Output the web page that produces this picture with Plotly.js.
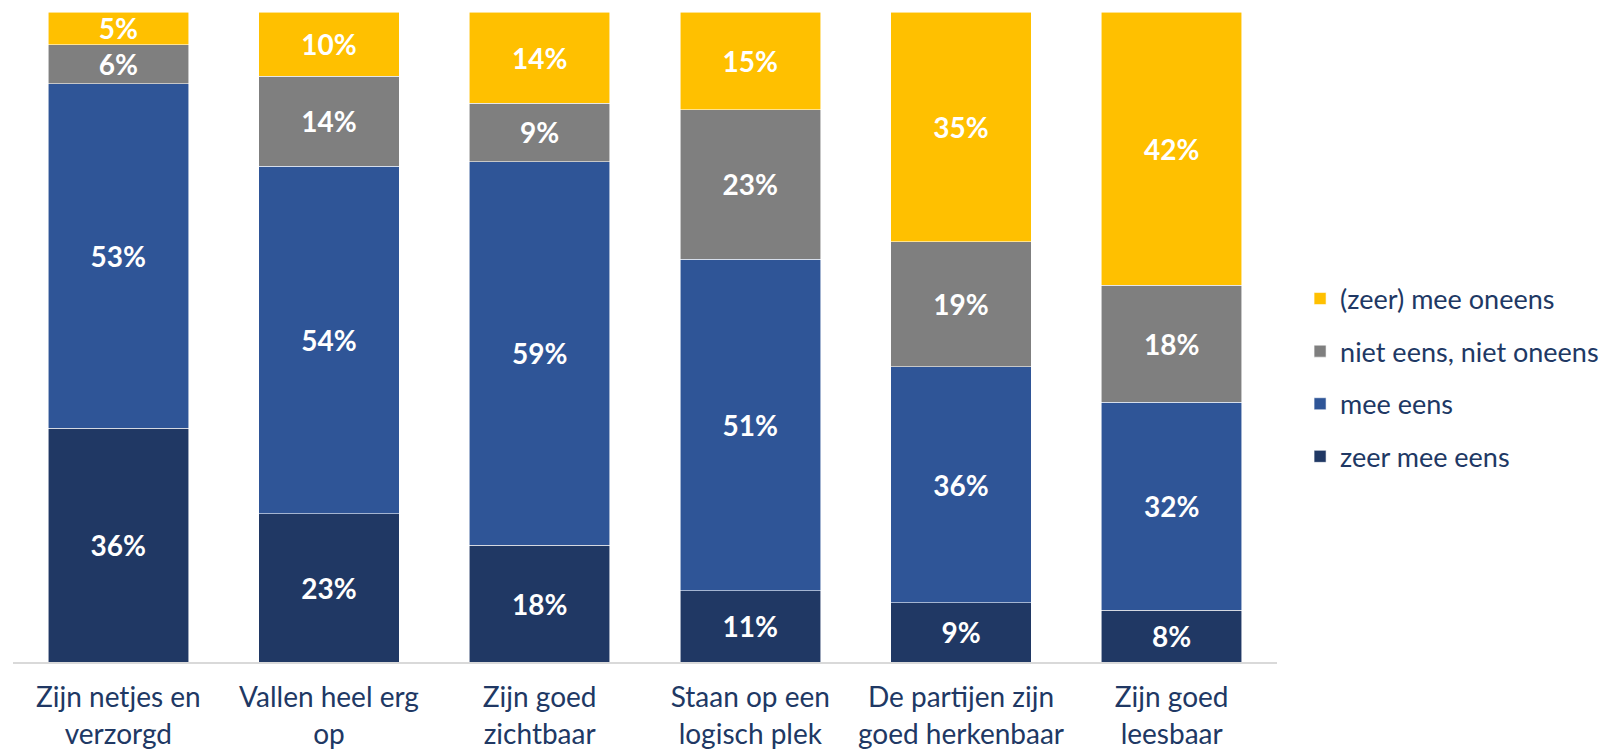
<!DOCTYPE html>
<html>
<head>
<meta charset="utf-8">
<script src="https://cdn.plot.ly/plotly-3.0.1.min.js"></script>
<style>html,body{margin:0;padding:0;background:#fff;}#chart{width:1609px;height:749px;}</style>
</head>
<body>
<div id="chart"></div>
<script>
const categories = [
  "Zijn netjes en<br>verzorgd",
  "Vallen heel erg<br>op",
  "Zijn goed<br>zichtbaar",
  "Staan op een<br>logisch plek",
  "De partijen zijn<br>goed herkenbaar",
  "Zijn goed<br>leesbaar"
];
const seriesNames = ["zeer mee eens", "mee eens", "niet eens, niet oneens", "(zeer) mee oneens"];
const zeerMeeEens = [36, 23, 18, 11, 9, 8];
const meeEens = [53, 54, 59, 51, 36, 32];
const neutraal = [6, 14, 9, 23, 19, 18];
const meeOneens = [5, 10, 14, 15, 35, 42];
const colors = ["#203864", "#2F5597", "#7F7F7F", "#FFC000"];

const values = [zeerMeeEens, meeEens, neutraal, meeOneens];
const FONT = "Lato, 'Open Sans', sans-serif";

const traces = values.map((v, i) => ({
  type: "bar",
  name: seriesNames[i],
  x: categories,
  y: v,
  text: v.map(n => n + "%"),
  textposition: "inside",
  insidetextanchor: "middle",
  textangle: 0,
  constraintext: "none",
  textfont: {family: FONT, size: 28, color: "#ffffff", weight: "bold"},
  marker: {color: colors[i], line: {color: "rgba(255,255,255,0.7)", width: 0.8}},
  legendgroup: "g" + i,
  legendrank: values.length - i,
  hoverinfo: "skip"
}));

const layout = {
  width: 1609,
  height: 749,
  barmode: "stack",
  barnorm: "percent",
  bargap: 0.333,
  margin: {l: 13, r: 332, t: 12, b: 87},
  paper_bgcolor: "#ffffff",
  plot_bgcolor: "#ffffff",
  font: {family: FONT, size: 28, color: "#203864"},
  uniformtext: {mode: "show", minsize: 28},
  xaxis: {
    showline: true, linecolor: "#D9D9D9", linewidth: 1.5,
    ticks: "", showgrid: false, zeroline: false,
    ticklabelstandoff: 10,
    tickfont: {family: FONT, size: 28, color: "#203864"}
  },
  yaxis: {
    range: [0, 100], showticklabels: false, showgrid: false,
    zeroline: false, showline: false, fixedrange: true
  },
  showlegend: true,
  legend: {
    xref: "container", yref: "container",
    x: 0.808, xanchor: "left", y: 0.496, yanchor: "middle",
    traceorder: "grouped", tracegroupgap: 14.5,
    font: {family: FONT, size: 27, color: "#203864"},
    bgcolor: "rgba(0,0,0,0)", borderwidth: 0
  }
};

Plotly.newPlot("chart", traces, layout, {displayModeBar: false, staticPlot: true});
</script>
</body>
</html>
